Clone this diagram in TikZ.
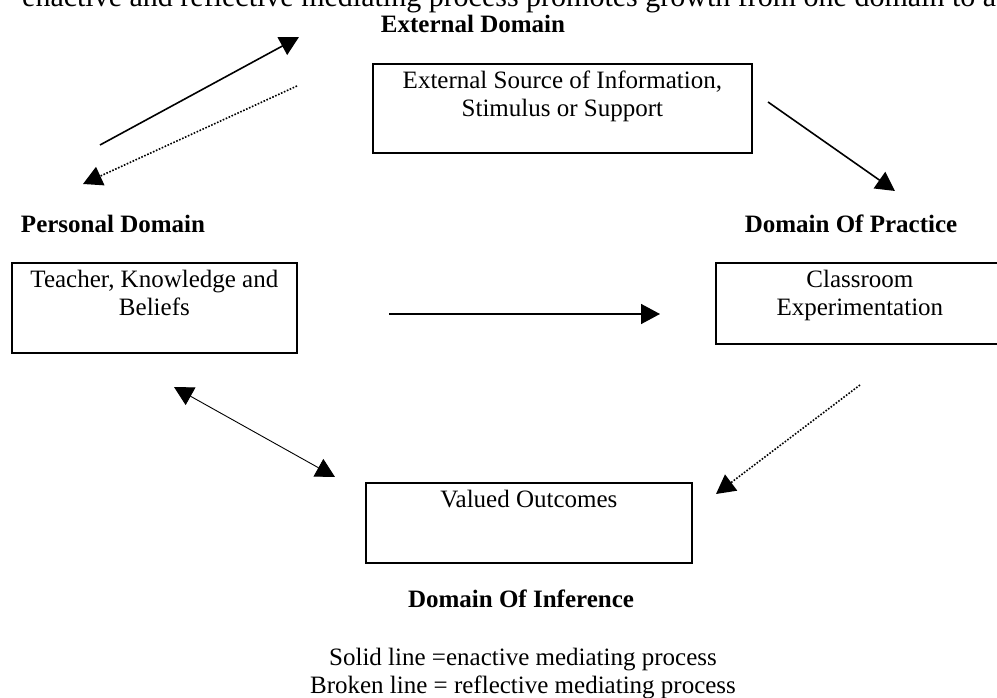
\documentclass[tikz,border=0pt]{standalone}
\usepackage{fontspec}
\setmainfont{Liberation Serif}
\usetikzlibrary{arrows.meta,positioning}
\tikzset{
  box/.style={draw, line width=1.8pt, inner sep=0pt},
  boxtxt/.style={align=center, inner sep=0pt, font=\fontsize{25}{28}\selectfont},
  dom/.style={inner sep=0pt, anchor=base, font=\fontsize{25}{28}\selectfont\bfseries},
  enact/.style={-{Triangle[length=19pt,width=20pt]}, line width=1.6pt},
  reflect/.style={-{Triangle[length=19pt,width=20pt]}, line width=1.6pt, dash pattern=on 1.6pt off 1.6pt},
  mutual/.style={{Triangle[length=19pt,width=20pt]}-{Triangle[length=19pt,width=20pt]}, line width=0.9pt},
}

\begin{document}
\begin{tikzpicture}[x=1pt,y=-1pt]
  \useasboundingbox (0,0) rectangle (997,698);
  % caption line, cut by the page edge
  \node[inner sep=0pt, anchor=base west, font=\fontsize{30}{34}\selectfont] (cap) at (22,6.5)
    {enactive and reflective mediating process promotes growth from one domain to a};
  % domains
  \node[box, minimum width=379pt, minimum height=89pt, anchor=north west] (ext) at (372,63) {};
  \node[boxtxt, below=7.5pt of ext.north] (exttxt) {External Source of Information,\\Stimulus or Support};
  \node[box, minimum width=285pt, minimum height=90pt, anchor=north west] (pers) at (11,262) {};
  \node[boxtxt, below=7.5pt of pers.north] (perstxt) {Teacher, Knowledge and\\Beliefs};
  \node[box, minimum width=288pt, minimum height=81pt, anchor=north west] (prac) at (715,262) {};
  \node[boxtxt, below=7.5pt of prac.north] (practxt) {Classroom\\Experimentation};
  \node[box, minimum width=326pt, minimum height=80pt, anchor=north west] (infer) at (365,482) {};
  \node[boxtxt, below=7.5pt of infer.north] (infertxt) {Valued Outcomes};
  \node[dom] (extlbl) at (473,33) {External Domain};
  \node[dom] (perslbl) at (113,233) {Personal Domain};
  \node[dom] (praclbl) at (851,233) {Domain Of Practice};
  \node[dom] (inferlbl) at (521,607) {Domain Of Inference};
  % arrow ends
  \coordinate (a1) at (100,145);  \coordinate (b1) at (299,37);
  \coordinate (a2) at (297,86);   \coordinate (b2) at (83,184);
  \coordinate (a3) at (768,102);  \coordinate (b3) at (895,191);
  \coordinate (a4) at (389,314);  \coordinate (b4) at (660,314);
  \coordinate (a5) at (174,387);  \coordinate (b5) at (335,477);
  \coordinate (a6) at (860,385);  \coordinate (b6) at (716,494);
  \draw[enact] (a1) -- (b1);
  \draw[reflect] (a2) -- (b2);
  \draw[enact] (a3) -- (b3);
  \draw[enact] (a4) -- (b4);
  \draw[mutual] (a5) -- (b5);
  \draw[reflect] (a6) -- (b6);
  % legend
  \node[boxtxt, anchor=north] (key) at (523,648) {Solid line =enactive mediating process\\Broken line = reflective mediating process};
\end{tikzpicture}
\end{document}
